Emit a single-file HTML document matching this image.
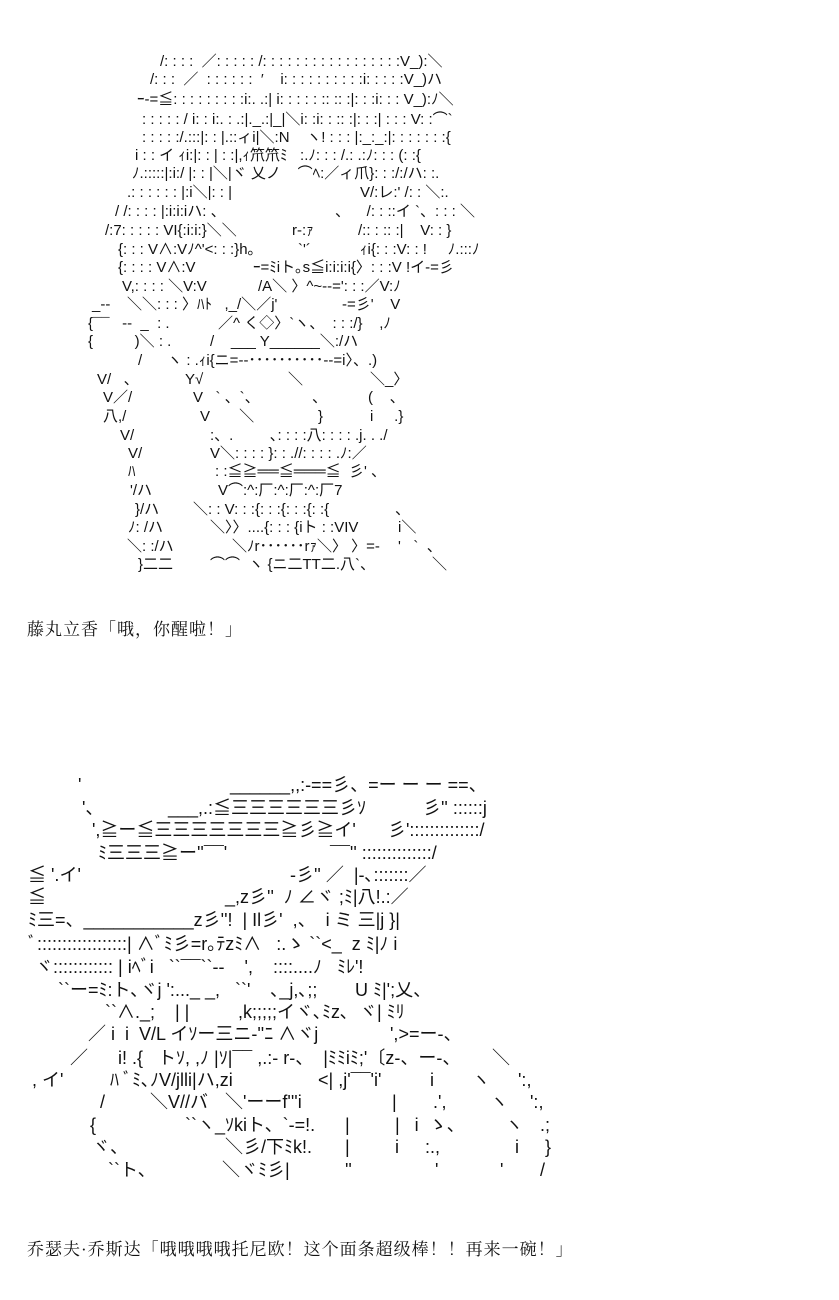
<!DOCTYPE html>
<html><head><meta charset="utf-8"><style>
html,body{margin:0;padding:0;background:#fff;width:839px;height:1300px;overflow:hidden;position:relative}
.s{position:absolute;white-space:pre;font-family:"Liberation Sans","Noto Sans CJK JP",sans-serif;font-size:15px;line-height:18px;color:#111}
.b .s{font-size:18px;line-height:20px}
.c{position:absolute;white-space:pre;font-family:"Liberation Serif","Noto Serif CJK SC",serif;font-size:17px;line-height:20px;color:#111;letter-spacing:1px}
</style></head><body>
<!-- art 1 -->
<div class="s" style="top:53px;left:160px">/: : : :  ／: : : : : /: : : : : : : : : : : : : : : : :V_):＼</div>
<div class="s" style="top:71px;left:150px">/: : :  ／  : : : : : :  ′    i: : : : : : : : : :i: : : : :V_)ハ</div>
<div class="s" style="top:91px;left:137px">ｰ‐=≦: : : : : : : : :i:. .:| i: : : : : :: :: :|: : :i: : : V_):ﾉ＼</div>
<div class="s" style="top:111px;left:142px">: : : : : / i: : i:. : .:|._.:|_|＼i: :i: : :: :|: : :| : : : V: :⌒`</div>
<div class="s" style="top:129px;left:142px">: : : : :/.:::|: : |.::ィi|＼:N    ヽ! : : : |:_:_:|: : : : : : :{</div>
<div class="s" style="top:147px;left:135px">i : : イ ｨi:|: : | : :|,ｨ笊笊ﾐ   :.ﾉ: : : /.: .:ﾉ: : : (: :{</div>
<div class="s" style="top:165px;left:132px">ﾉ.:::::|:i:/ |: : |＼|ヾ 乂ノ    ⌒ﾍ:／ィ爪}: : :/:/ハ: :.</div>
<div class="s" style="top:184px;left:127px">.: : : : : : |:i＼|: : |</div><div class="s" style="top:184px;left:360px">V/:レ:' /: : ＼:.</div>
<div class="s" style="top:203px;left:115px">/ /: : : : |:i:i:iハ: 、</div><div class="s" style="top:203px;left:335px">、    /: : ::イ `、: : : ＼</div>
<div class="s" style="top:222px;left:105px">/:7: : : : : VI{:i:i:}＼＼</div><div class="s" style="top:222px;left:292px">r‐:ｧ</div><div class="s" style="top:222px;left:358px">/:: : :: :|    V: : }</div>
<div class="s" style="top:241px;left:118px">{: : : V∧:Vﾉ^'<: : :}h｡</div><div class="s" style="top:241px;left:298px">`'´</div><div class="s" style="top:241px;left:360px">ｨi{: : :V: : !     ﾉ.:::ﾉ</div>
<div class="s" style="top:259px;left:118px">{: : : : V∧:V</div><div class="s" style="top:259px;left:253px">ｰ=ﾐiト｡s≦i:i:i:i{〉: : :V !イ‐=彡</div>
<div class="s" style="top:278px;left:122px">V,: : : : ＼V:V</div><div class="s" style="top:278px;left:258px">/A＼ 〉^~‐‐=': : :／V:ﾉ</div>
<div class="s" style="top:296px;left:92px">_‐‐    ＼＼: : : 〉ﾊﾄ   ,_/＼／j'</div><div class="s" style="top:296px;left:342px">‐=彡'    V</div>
<div class="s" style="top:315px;left:88px">{¯¯   ‐‐  _  : .</div><div class="s" style="top:315px;left:218px">／^ く◇〉`ヽ、  : : :/}    ,ﾉ</div>
<div class="s" style="top:333px;left:88px">{          )＼ : .</div><div class="s" style="top:333px;left:210px">/    ___ Y______＼:/ハ</div>
<div class="s" style="top:352px;left:138px">/      ヽ : .ｨi{ニ=‐‐･･････････‐‐=i〉、.)</div>
<div class="s" style="top:371px;left:97px">V/   、</div><div class="s" style="top:371px;left:185px">Y√</div><div class="s" style="top:371px;left:288px">＼</div><div class="s" style="top:371px;left:370px">＼_〉</div>
<div class="s" style="top:389px;left:103px">V／/</div><div class="s" style="top:389px;left:193px">V   ` 、`、</div><div class="s" style="top:389px;left:312px">、</div><div class="s" style="top:389px;left:368px">(    、</div>
<div class="s" style="top:408px;left:103px">八,/</div><div class="s" style="top:408px;left:200px">V       ＼</div><div class="s" style="top:408px;left:318px">}</div><div class="s" style="top:408px;left:370px">i     .}</div>
<div class="s" style="top:427px;left:120px">V/</div><div class="s" style="top:427px;left:210px">:、.</div><div class="s" style="top:427px;left:270px">､: : : :八: : : : .j. . ./</div>
<div class="s" style="top:445px;left:128px">V/</div><div class="s" style="top:445px;left:210px">V＼: : : : }: : .//: : : : .ﾉ:／</div>
<div class="s" style="top:463px;left:128px">ﾊ</div><div class="s" style="top:463px;left:215px">: :≦≧══≦═══≦  彡' 、</div>
<div class="s" style="top:482px;left:130px">'/ハ</div><div class="s" style="top:482px;left:218px">V⌒:^:厂:^:厂:^:厂7</div>
<div class="s" style="top:501px;left:135px">}/ハ</div><div class="s" style="top:501px;left:193px">＼: : V: : :{: : :{: : :{: :{</div><div class="s" style="top:501px;left:395px">、</div>
<div class="s" style="top:519px;left:128px">ﾉ: /ハ</div><div class="s" style="top:519px;left:210px">＼〉〉....{: : : {iト : :VIV</div><div class="s" style="top:519px;left:398px">i＼</div>
<div class="s" style="top:538px;left:127px">＼: :/ハ</div><div class="s" style="top:538px;left:232px">＼ﾉr･･････rｧ＼〉 〉=‐</div><div class="s" style="top:538px;left:398px">'   `  、</div>
<div class="s" style="top:556px;left:138px">}二二</div><div class="s" style="top:556px;left:210px">⌒⌒  ヽ {ニ二TT二.八`、</div><div class="s" style="top:556px;left:432px">＼</div>

<div class="c" style="top:620px;left:27px">藤丸立香「哦，你醒啦！」</div>

<!-- art 2 -->
<div class="b">
<div class="s" style="top:775px;left:78px">'</div><div class="s" style="top:775px;left:230px">______,,:‐==彡、=ー ー ー ==、</div>
<div class="s" style="top:798px;left:82px">'、</div><div class="s" style="top:798px;left:168px">___,.:≦三三三三三三彡ｿ</div><div class="s" style="top:798px;left:423px">彡'' ::::::j</div>
<div class="s" style="top:820px;left:92px">',≧ー≦三三三三三三三≧彡≧イ'</div><div class="s" style="top:820px;left:388px">彡'::::::::::::::/</div>
<div class="s" style="top:843px;left:98px">ﾐ三三三≧ー''¯¯'</div><div class="s" style="top:843px;left:330px">¯¯'' ::::::::::::::/</div>
<div class="s" style="top:865px;left:28px">≦ '.イ'</div><div class="s" style="top:865px;left:290px">‐彡'' ／  |‐､:::::::／</div>
<div class="s" style="top:887px;left:28px">≦</div><div class="s" style="top:887px;left:225px">_,z彡''  ﾉ ∠ヾ ;ﾐ|八!.:／</div>
<div class="s" style="top:910px;left:28px">ﾐ三=、___________z彡''!  | Il彡'  ,、  i ミ 三|j }|</div>
<div class="s" style="top:934px;left:28px">ﾞ::::::::::::::::::| ∧ﾞﾐ彡=r｡ﾃzﾐ∧   :.ゝ ``<_  z ﾐ|ﾉ i</div>
<div class="s" style="top:957px;left:35px">ヾ:::::::::::: | iﾍﾞi   ``¯¯``‐‐    ',    ::::....ﾉ   ﾐﾚ'!</div>
<div class="s" style="top:980px;left:58px">``ー=ﾐ:ト､ヾj ':..._ _,   ``'    ､_j,､;;</div><div class="s" style="top:980px;left:355px">U ﾐ|';乂、</div>
<div class="s" style="top:1002px;left:105px">``∧._;    | |</div><div class="s" style="top:1002px;left:238px">,k;;;;;イヾ､ﾐz､  ヾ| ﾐﾘ</div>
<div class="s" style="top:1024px;left:88px">／ i  i  V/L イｿー三ニ‐''ﾆ ∧ヾj</div><div class="s" style="top:1024px;left:390px">',>=ー‐、</div>
<div class="s" style="top:1048px;left:70px">／</div><div class="s" style="top:1048px;left:118px">i! .{   トｿ, ,ﾉ |ｿ|¯¯ ,.:‐ r‐、  |ﾐﾐiﾐ;'〔z‐、ー‐、</div><div class="s" style="top:1048px;left:492px">＼</div>
<div class="s" style="top:1070px;left:32px">, イ'</div><div class="s" style="top:1070px;left:110px">ﾊ ﾞﾐ､ﾉV/jlli|ハ,zi</div><div class="s" style="top:1070px;left:318px">&lt;| ,j'¯¯'i'</div><div class="s" style="top:1070px;left:430px">i</div><div class="s" style="top:1070px;left:472px">ヽ</div><div class="s" style="top:1070px;left:518px">':,</div>
<div class="s" style="top:1092px;left:100px">/</div><div class="s" style="top:1092px;left:150px">＼V//バ</div><div class="s" style="top:1092px;left:225px">＼'ーーf'''i</div><div class="s" style="top:1092px;left:392px">|</div><div class="s" style="top:1092px;left:433px">.',</div><div class="s" style="top:1092px;left:490px">ヽ</div><div class="s" style="top:1092px;left:530px">':,</div>
<div class="s" style="top:1115px;left:90px">{</div><div class="s" style="top:1115px;left:185px">``ヽ_ｿkiト、`‐=!.</div><div class="s" style="top:1115px;left:345px">|</div><div class="s" style="top:1115px;left:395px">|   i  ゝ、</div><div class="s" style="top:1115px;left:505px">ヽ</div><div class="s" style="top:1115px;left:540px">.;</div>
<div class="s" style="top:1137px;left:92px">ヾ、</div><div class="s" style="top:1137px;left:225px">＼彡/下ﾐk!.</div><div class="s" style="top:1137px;left:345px">|</div><div class="s" style="top:1137px;left:395px">i</div><div class="s" style="top:1137px;left:425px">:.,</div><div class="s" style="top:1137px;left:515px">i</div><div class="s" style="top:1137px;left:545px">}</div>
<div class="s" style="top:1160px;left:108px">``ト、</div><div class="s" style="top:1160px;left:222px">＼ヾﾐ彡|</div><div class="s" style="top:1160px;left:345px">''</div><div class="s" style="top:1160px;left:435px">'</div><div class="s" style="top:1160px;left:500px">'</div><div class="s" style="top:1160px;left:540px">/</div>
</div>

<div class="c" style="top:1240px;left:27px">乔瑟夫·乔斯达「哦哦哦哦托尼欧！这个面条超级棒！！再来一碗！」</div>
</body></html>
